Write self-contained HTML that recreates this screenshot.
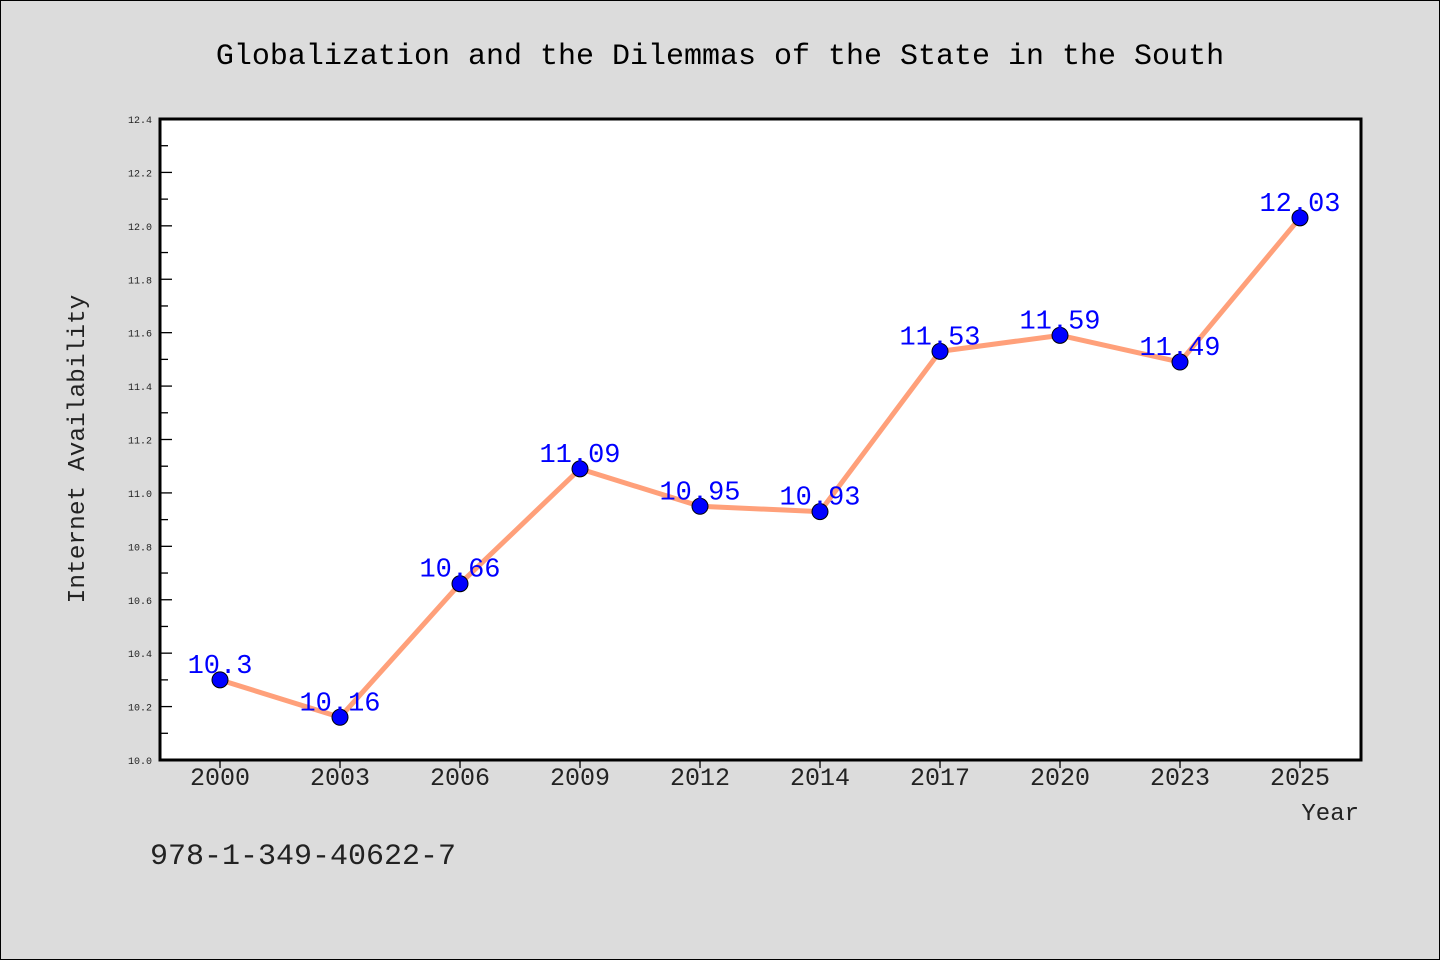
<!DOCTYPE html>
<html><head><meta charset="utf-8"><style>
body{margin:0;background:#dcdcdc;}
svg{display:block;font-family:"Liberation Mono",monospace;}
</style></head><body>
<svg id="chart" width="1440" height="960" viewBox="0 0 1440 960" xmlns="http://www.w3.org/2000/svg">
<rect x="0.5" y="0.5" width="1439" height="959" fill="#dcdcdc" stroke="#000" stroke-width="1"/>
<text x="720" y="64" text-anchor="middle" font-size="30" fill="#000">Globalization and the Dilemmas of the State in the South</text>
<rect x="160" y="119" width="1201" height="641" fill="#fff"/>
<g id="yaxis"></g>
<g id="xaxis"></g>
<g id="series"></g>
<rect x="160" y="119" width="1201" height="641" fill="none" stroke="#000" stroke-width="3"/>
<text x="84" y="449" text-anchor="middle" font-size="24.5" fill="#222" transform="rotate(-90 84 449)">Internet Availability</text>
<text x="1359" y="820" text-anchor="end" font-size="24" fill="#222">Year</text>
<text x="150" y="864" font-size="30" fill="#222">978-1-349-40622-7</text>
</svg>
<script>
const categories=["2000","2003","2006","2009","2012","2014","2017","2020","2023","2025"];
const values=[10.3,10.16,10.66,11.09,10.95,10.93,11.53,11.59,11.49,12.03];
const valueLabels=["10.3","10.16","10.66","11.09","10.95","10.93","11.53","11.59","11.49","12.03"];
const yTicks=["10.0","10.2","10.4","10.6","10.8","11.0","11.2","11.4","11.6","11.8","12.0","12.2","12.4"];
const NS="http://www.w3.org/2000/svg";
const L=160,R=1361,T=119,B=760,ymin=10.0,ymax=12.4;
const y=v=>B-(v-ymin)/(ymax-ymin)*(B-T);
const x=i=>L+60+i*(R-L-121)/(categories.length-1);
function mk(tag,attrs,parent){const e=document.createElementNS(NS,tag);for(const k in attrs)e.setAttribute(k,attrs[k]);parent.appendChild(e);return e;}
const ya=document.getElementById('yaxis'),xa=document.getElementById('xaxis'),se=document.getElementById('series');
yTicks.forEach((t,i)=>{
  const v=parseFloat(t),yy=y(v);
  const ln=mk('line',{x1:L,x2:L+12,y1:yy,y2:yy,stroke:'#000','stroke-width':1.3},ya);
  
  
  const tx=mk('text',{x:152,y:yy+4,'text-anchor':'end','font-size':10,fill:'#222'},ya);
  tx.textContent=t;
  
  
  if(i<yTicks.length-1){
    const ym=y(v+0.1);
    const mn=mk('line',{x1:L,x2:L+8,y1:ym,y2:ym,stroke:'#000','stroke-width':1.3},ya);
    
    
  }
});
categories.forEach((c,i)=>{
  const xx=x(i);
  const ln=mk('line',{x1:xx,x2:xx,y1:B,y2:B+8,stroke:'#000','stroke-width':1.3},xa);
  
  
  const tx=mk('text',{x:xx,y:785,'text-anchor':'middle','font-size':25,fill:'#222'},xa);
  tx.textContent=c;
  
  
});
const pl=mk('polyline',{points:values.map((v,i)=>x(i)+','+y(v)).join(' '),fill:'none',stroke:'#ffa07a','stroke-width':5,'stroke-linejoin':'round'},se);


values.forEach((v,i)=>{
  const c=mk('circle',{cx:x(i),cy:y(v),r:8,fill:'#0000ff',stroke:'#000','stroke-width':1},se);
  
  
  const t=mk('text',{x:x(i),y:y(v)-7,'text-anchor':'middle','font-size':27,fill:'#0000ff'},se);
  t.textContent=valueLabels[i];
  
  
});
</script>
</body></html>
